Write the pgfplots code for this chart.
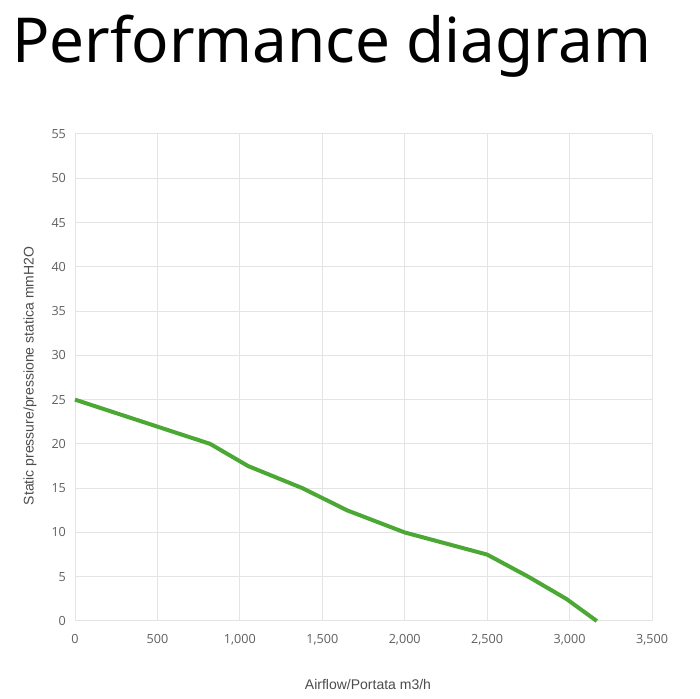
\documentclass[border=0pt]{standalone}
\usepackage{pgfplots}
\pgfplotsset{compat=1.18}
\usepackage{fontspec}
\setmainfont{Liberation Sans}
\newfontfamily\tickfont{Open Sans}
\newfontfamily\titlefont{Noto Sans}
\definecolor{curvegreen}{RGB}{76,168,52}
\definecolor{gridgray}{RGB}{228,228,228}
\definecolor{ticktext}{RGB}{95,95,95}
\begin{document}
\begin{tikzpicture}
\path[use as bounding box] (0,0) rectangle (350pt,349.5pt);
\node[anchor=base west, inner sep=0pt, font=\titlefont\fontsize{31}{36}\selectfont] at (6pt,318pt) {Performance diagram};
\begin{axis}[
    at={(37.5pt,39pt)}, anchor=south west,
    scale only axis,
    width=288.5pt, height=243.5pt,
    xmin=0, xmax=3500, ymin=0, ymax=55,
    xtick={0,500,1000,1500,2000,2500,3000,3500},
    xticklabels={0,500,{1,000},{1,500},{2,000},{2,500},{3,000},{3,500}},
    ytick={0,5,10,15,20,25,30,35,40,45,50,55},
    /pgf/number format/assume math mode=true,
    axis line style={draw=none},
    major tick length=0pt,
    grid=major,
    grid style={gridgray, line width=0.5pt},
    tick label style={font=\tickfont\fontsize{6.3}{7}\selectfont, text=ticktext},
    xticklabel style={yshift=-3pt},
    yticklabel style={xshift=-1pt},
    clip=false,
]
\addplot[curvegreen, line width=2pt, line join=round] coordinates {
    (0,25) (820,20) (1050,17.5) (1380,15) (1650,12.5) (2000,10) (2500,7.5) (2750,5) (2980,2.5) (3165,0)
};
\end{axis}
\node[font=\fontsize{7}{8}\selectfont, text=ticktext!80!black] at (184pt,7.5pt) {Airflow/Portata m3/h};
\node[rotate=90, font=\fontsize{7}{8}\selectfont, text=ticktext!80!black] at (15pt,161.5pt) {Static pressure/pressione statica mmH2O};
\end{tikzpicture}
\end{document}
